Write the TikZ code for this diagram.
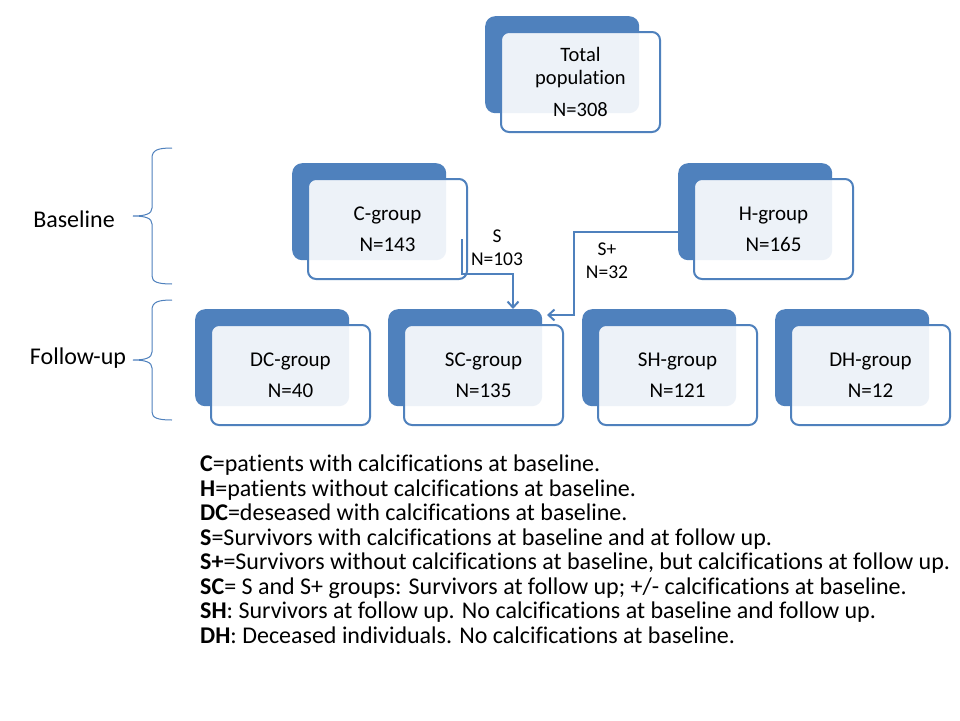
\documentclass[tikz,border=0pt]{standalone}
\usepackage{fontspec}
\setmainfont[Ligatures={CommonOff}]{Carlito}
\usetikzlibrary{arrows.meta,backgrounds,calc}
\definecolor{ob}{HTML}{4F81BD}
\tikzset{
 darkbox/.style={anchor=north west, fill=ob, rounded corners=10pt, minimum width=154pt, minimum height=97pt, inner sep=0pt},
 lightbox/.style={anchor=north west, draw=ob, line width=2pt, fill=white, fill opacity=0.9, text opacity=1, rounded corners=8pt, minimum width=159pt, minimum height=100pt, inner sep=0pt, align=center, font=\fontsize{21}{31}\selectfont},
 conn/.style={draw=ob, line width=2pt},
 arr/.style={conn, -{Straight Barb[length=6pt,width=11pt]}},
 lbl/.style={align=center, font=\fontsize{19.5}{23}\selectfont, inner sep=0pt},
 side/.style={font=\fontsize{24}{24}\selectfont, inner sep=0pt},
 bracel/.style={draw=ob, line width=1pt},
 legend/.style={anchor=base west, inner sep=0pt, font=\fontsize{24}{24}\selectfont},
}
\begin{document}
\begin{tikzpicture}[x=1pt,y=1pt]
\useasboundingbox[fill=white] (0,0) rectangle (960,-720);
% boxes
\node[darkbox] (Td) at (485,-16) {};
\node[lightbox, font=\fontsize{20.5}{22.5}\selectfont] (T) at (500,-31) {Total\\population\\[10pt]N=308};
\node[darkbox] (Cd) at (292,-163) {};
\node[lightbox] (C) at (307,-178) {C-group\\N=143};
\node[darkbox] (Hd) at (678,-163) {};
\node[lightbox] (H) at (693,-178) {H-group\\N=165};
\node[darkbox] (DCd) at (195,-309) {};
\node[lightbox] (DC) at (210,-324) {DC-group\\N=40};
\node[darkbox] (SCd) at (388,-309) {};
\node[lightbox] (SC) at (403,-324) {SC-group\\N=135};
\node[darkbox] (SHd) at (582,-309) {};
\node[lightbox] (SH) at (597,-324) {SH-group\\N=121};
\node[darkbox] (DHd) at (775,-309) {};
\node[lightbox] (DH) at (790,-324) {DH-group\\N=12};
% tree connectors
\begin{scope}[on background layer]
\coordinate (j0) at ($(Td.south)+(0,-34)$);
\draw[conn] (Td.south) -- (j0);
\draw[conn] (Cd.north) |- (j0) -| (Hd.north);
\coordinate (j1) at ($(Cd.south)+(0,-33)$);
\draw[conn] (Cd.south) -- (j1);
\draw[conn] (DCd.north) |- (j1) -| (SCd.north);
\coordinate (j2) at ($(Hd.south)+(0,-33)$);
\draw[conn] (Hd.south) -- (j2);
\draw[conn] (SHd.north) |- (j2) -| (DHd.north);
\end{scope}
% transfer arrows
\coordinate (sS) at (462,-239);
\coordinate (sK) at (513,-274);
\draw[arr] (sS) |- (sK) -- (sK |- SCd.north);
\coordinate (lvl) at (0,-232);
\coordinate (pK) at (574,-315);
\coordinate (pT) at (547,-315);
\draw[arr] (Hd.west |- lvl) -| (pK) -- (pT);
\node[lbl] (lS) at (497,-248) {S\\N=103};
\node[lbl] (lSp) at (607,-261) {S+\\N=32};
% side labels and braces
\node[side] (bl) at (74,-219) {Baseline};
\node[side] (fu) at (78,-358) {Follow-up};
\draw[bracel] (172,-148) .. controls (158,-148) and (152,-150) .. (152,-158) -- (152,-208) .. controls (152,-214) and (145,-216) .. (133,-216) .. controls (145,-216) and (152,-218) .. (152,-224) -- (152,-276) .. controls (152,-282) and (158,-284) .. (172,-284);
\draw[bracel] (172,-300) .. controls (158,-300) and (152,-302) .. (152,-310) -- (152,-352) .. controls (152,-358) and (145,-360) .. (133,-360) .. controls (145,-360) and (152,-362) .. (152,-368) -- (152,-412) .. controls (152,-418) and (158,-420) .. (172,-420);
% legend
\node[legend] (L1) at (200,-471) {\textbf{C}=patients with calcifications at baseline.};
\node[legend] (L2) at (200,-496) {\textbf{H}=patients without calcifications at baseline.};
\node[legend] (L3) at (200,-520) {\textbf{DC}=deseased with calcifications at baseline.};
\node[legend] (L4) at (200,-545) {\textbf{S}=Survivors with calcifications at baseline and at follow up.};
\node[legend] (L5) at (200,-569) {\textbf{S+}=Survivors without calcifications at baseline, but calcifications at follow up.};
\node[legend] (L6) at (200,-594) {\textbf{SC}= S and S+ groups: Survivors at follow up; +/- calcifications at baseline.};
\node[legend] (L7) at (200,-618) {\textbf{SH}: Survivors at follow up. No calcifications at baseline and follow up.};
\node[legend] (L8) at (200,-643) {\textbf{DH}: Deceased individuals. No calcifications at baseline.};
\end{tikzpicture}
\end{document}
